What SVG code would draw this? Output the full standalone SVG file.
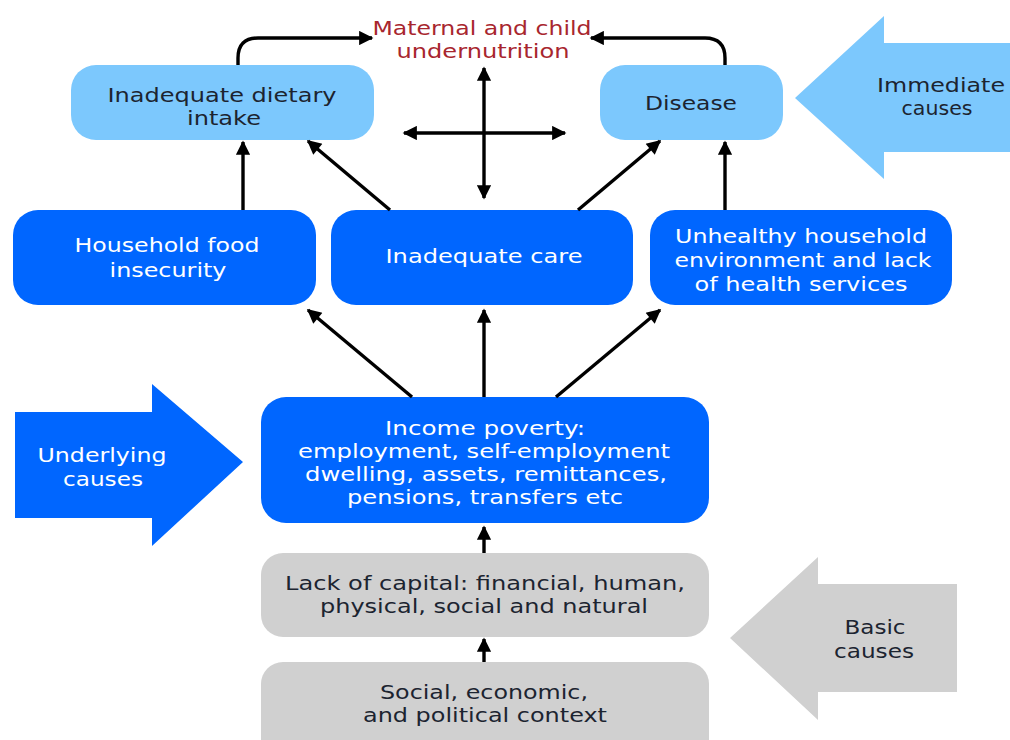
<svg xmlns="http://www.w3.org/2000/svg" width="1010" height="740" viewBox="0 0 1010 740">
<style>
text{font-family:"DejaVu Sans","Verdana",sans-serif;font-size:20px;text-anchor:middle}
.lb{fill:#7cc8fd}
.db{fill:#0066ff}
.gb{fill:#d0d0d0}
.dk{fill:#1c2430}
.wt{fill:#ffffff}
.red{fill:#a8262e}
.cn{stroke:#000;stroke-width:3.4;fill:none;marker-end:url(#ah)}
.cn2{stroke:#000;stroke-width:3.4;fill:none;marker-end:url(#ah);marker-start:url(#ahs)}
</style>
<defs>
<marker id="ah" viewBox="0 0 10 10" refX="9" refY="5" markerWidth="4.6" markerHeight="4.2" orient="auto" markerUnits="strokeWidth"><path d="M0,0 L10,5 L0,10 z" fill="#000"/></marker>
<marker id="ahs" viewBox="0 0 10 10" refX="1" refY="5" markerWidth="4.6" markerHeight="4.2" orient="auto" markerUnits="strokeWidth"><path d="M10,0 L0,5 L10,10 z" fill="#000"/></marker>
</defs>
<rect width="1010" height="740" fill="#fff"/>

<g id="immediate-causes">
<polygon class="lb" points="795,98 884,16 884,43 1010,43 1010,152 884,152 884,179"/>
<text class="dk" x="941" y="92" textLength="128" lengthAdjust="spacingAndGlyphs">Immediate</text>
<text class="dk" x="937" y="115" textLength="71" lengthAdjust="spacingAndGlyphs">causes</text>
</g>

<g id="underlying-causes">
<polygon class="db" points="15,412 152,412 152,384 243,462 152,546 152,518 15,518"/>
<text class="wt" x="102" y="462" textLength="129" lengthAdjust="spacingAndGlyphs">Underlying</text>
<text class="wt" x="103" y="486" textLength="80" lengthAdjust="spacingAndGlyphs">causes</text>
</g>

<g id="basic-causes">
<polygon class="gb" points="730,638 818,557 818,584 957,584 957,692 818,692 818,720"/>
<text class="dk" x="875" y="634" textLength="61" lengthAdjust="spacingAndGlyphs">Basic</text>
<text class="dk" x="874" y="658" textLength="80" lengthAdjust="spacingAndGlyphs">causes</text>
</g>

<g id="maternal">
<text class="red" x="482" y="35" textLength="219" lengthAdjust="spacingAndGlyphs">Maternal and child</text>
<text class="red" x="483" y="58" textLength="173" lengthAdjust="spacingAndGlyphs">undernutrition</text>
</g>

<g id="dietary-intake">
<rect class="lb" x="71" y="65" width="303" height="75" rx="25"/>
<text class="dk" x="222" y="102" textLength="229" lengthAdjust="spacingAndGlyphs">Inadequate dietary</text>
<text class="dk" x="224" y="125" textLength="74" lengthAdjust="spacingAndGlyphs">intake</text>
</g>

<g id="disease">
<rect class="lb" x="600" y="65" width="183" height="75" rx="25"/>
<text class="dk" x="691" y="110" textLength="92" lengthAdjust="spacingAndGlyphs">Disease</text>
</g>

<g id="food-insecurity">
<rect class="db" x="13" y="210" width="303" height="95" rx="25"/>
<text class="wt" x="167" y="252" textLength="185" lengthAdjust="spacingAndGlyphs">Household food</text>
<text class="wt" x="168" y="277" textLength="117" lengthAdjust="spacingAndGlyphs">insecurity</text>
</g>

<g id="inadequate-care">
<rect class="db" x="331" y="210" width="302" height="95" rx="25"/>
<text class="wt" x="484" y="263" textLength="197" lengthAdjust="spacingAndGlyphs">Inadequate care</text>
</g>

<g id="unhealthy-environment">
<rect class="db" x="650" y="210" width="302" height="95" rx="25"/>
<text class="wt" x="801" y="243" textLength="252" lengthAdjust="spacingAndGlyphs">Unhealthy household</text>
<text class="wt" x="803" y="267" textLength="257" lengthAdjust="spacingAndGlyphs">environment and lack</text>
<text class="wt" x="801" y="291" textLength="213" lengthAdjust="spacingAndGlyphs">of health services</text>
</g>

<g id="income-poverty">
<rect class="db" x="261" y="397" width="448" height="126" rx="25"/>
<text class="wt" x="485" y="435" textLength="200" lengthAdjust="spacingAndGlyphs">Income poverty:</text>
<text class="wt" x="484" y="458" textLength="372" lengthAdjust="spacingAndGlyphs">employment, self-employment</text>
<text class="wt" x="486" y="481" textLength="362" lengthAdjust="spacingAndGlyphs">dwelling, assets, remittances,</text>
<text class="wt" x="485" y="504" textLength="276" lengthAdjust="spacingAndGlyphs">pensions, transfers etc</text>
</g>

<g id="lack-of-capital">
<rect class="gb" x="261" y="553" width="448" height="84" rx="22"/>
<text class="dk" x="485" y="590" textLength="400" lengthAdjust="spacingAndGlyphs">Lack of capital: financial, human,</text>
<text class="dk" x="484" y="613" textLength="328" lengthAdjust="spacingAndGlyphs">physical, social and natural</text>
</g>

<g id="context">
<rect class="gb" x="261" y="662" width="448" height="100" rx="22"/>
<text class="dk" x="484" y="699" textLength="208" lengthAdjust="spacingAndGlyphs">Social, economic,</text>
<text class="dk" x="485" y="722" textLength="244" lengthAdjust="spacingAndGlyphs">and political context</text>
</g>

<g id="connectors">
<path class="cn" d="M238,65 L238,58 Q238,38 258,38 L372,38"/>
<path class="cn" d="M725,65 L725,58 Q725,38 705,38 L591,38"/>
<path class="cn2" d="M484,68 L484,198"/>
<path class="cn2" d="M404,133 L565,133"/>
<path class="cn" d="M243,210 L243,142"/>
<path class="cn" d="M390,210 L308,141"/>
<path class="cn" d="M578,210 L660,141"/>
<path class="cn" d="M725,210 L725,142"/>
<path class="cn" d="M412,397 L308,310"/>
<path class="cn" d="M484,397 L484,310"/>
<path class="cn" d="M556,397 L660,310"/>
<path class="cn" d="M484,553 L484,527"/>
<path class="cn" d="M484,662 L484,639"/>
</g>
</svg>
